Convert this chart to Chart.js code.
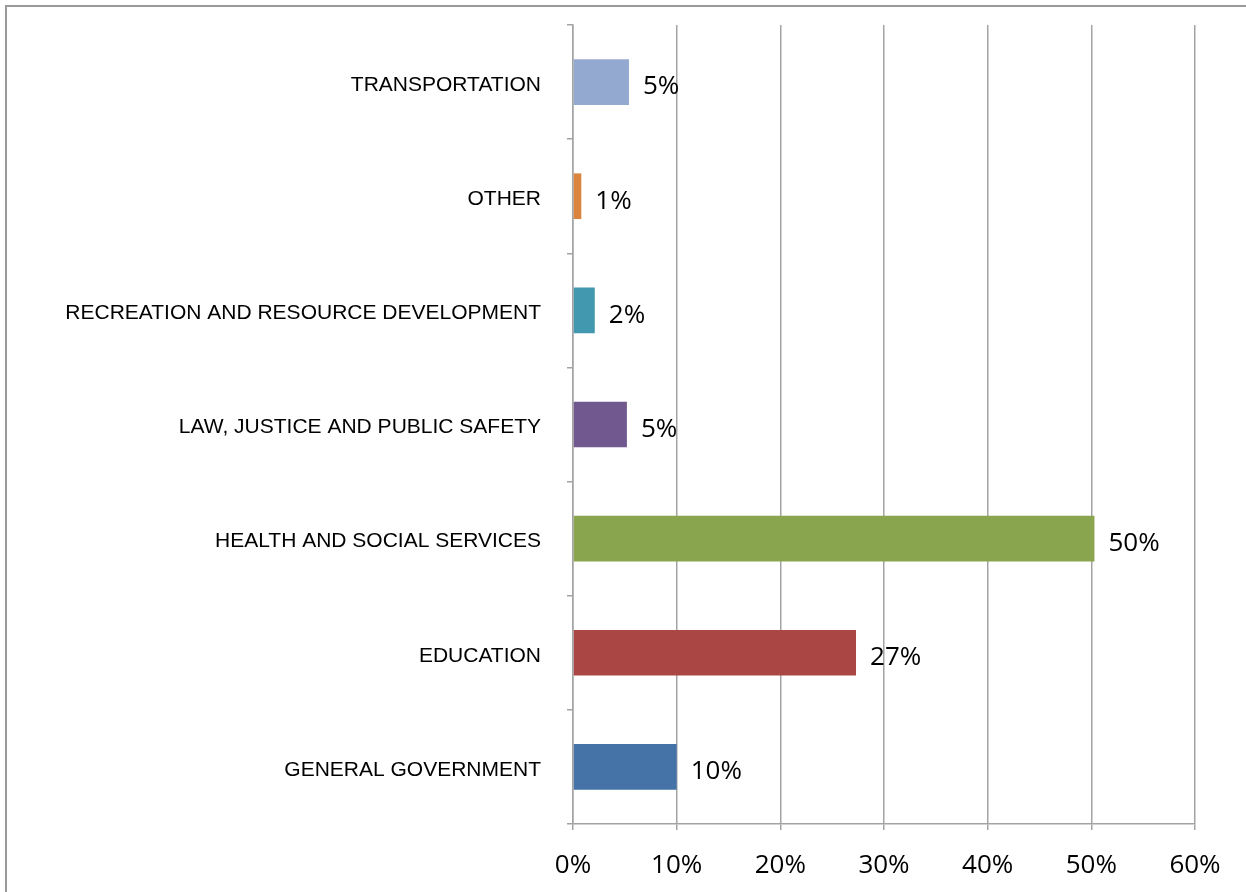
<!DOCTYPE html>
<html>
<head>
<meta charset="utf-8">
<script src="https://cdn.jsdelivr.net/npm/chart.js@4.4.1/dist/chart.umd.min.js"></script>
<style>
  html, body { margin: 0; padding: 0; background: #fff; }
  #wrap { position: relative; width: 1246px; height: 892px; overflow: hidden; }
  #frame { position: absolute; left: 5px; top: 5px; width: 1300px; height: 950px;
           border-left: 2px solid #9a9a9a; border-top: 2px solid #9a9a9a; pointer-events: none; }
  canvas { position: absolute; left: 0; top: 0; }
</style>
</head>
<body>
<div id="wrap">
  <canvas id="chart" width="1246" height="892"></canvas>
  <div id="frame"></div>
</div>
<script>
  // categorias de cima para baixo
  const categorias = [
    'TRANSPORTATION',
    'OTHER',
    'RECREATION AND RESOURCE DEVELOPMENT',
    'LAW, JUSTICE AND PUBLIC SAFETY',
    'HEALTH AND SOCIAL SERVICES',
    'EDUCATION',
    'GENERAL GOVERNMENT'
  ];
  const valores = [5.4, 0.8, 2.1, 5.2, 50.3, 27.3, 10.0];
  const cores = ['#93A9CF', '#DB843D', '#4198AF', '#71588F', '#89A54E', '#AA4643', '#4572A7'];
  const xTicks = [0, 10, 20, 30, 40, 50, 60];

  const gridCor = '#a3a3a3';

  // rótulos de valor ao lado das barras
  const rotulos = {
    id: 'rotulos',
    afterDatasetsDraw(chart) {
      const ctx = chart.ctx;
      const meta = chart.getDatasetMeta(0);
      ctx.save();
      ctx.font = '26px "Open Sans"';
      ctx.fillStyle = '#000';
      ctx.textAlign = 'left';
      ctx.textBaseline = 'middle';
      meta.data.forEach((bar, i) => {
        ctx.fillText(Math.round(valores[i]) + '%', bar.x + 14, bar.y + 5);
      });
      ctx.restore();
    }
  };

  new Chart(document.getElementById('chart'), {
    type: 'bar',
    data: {
      labels: categorias,
      datasets: [{
        data: valores,
        backgroundColor: cores,
        borderWidth: 0,
        barPercentage: 0.4,
        categoryPercentage: 1
      }]
    },
    options: {
      indexAxis: 'y',
      responsive: false,
      animation: false,
      layout: { padding: { top: 25, right: 51, left: 0, bottom: 0 } },
      plugins: { legend: { display: false }, tooltip: { enabled: false } },
      scales: {
        x: {
          min: 0,
          max: 60,
          afterBuildTicks: s => { s.ticks = xTicks.map(v => ({ value: v })); },
          afterFit: s => { s.height = 68; s.paddingLeft = 0; s.paddingRight = 0; },
          ticks: {
            callback: v => v + '%',
            color: '#000',
            font: { family: 'Open Sans', size: 26 },
            padding: 20,
            maxRotation: 0
          },
          grid: { color: gridCor, lineWidth: 1.5, tickLength: 6 },
          border: { color: gridCor, width: 1.5 }
        },
        y: {
          afterFit: s => { s.width = 573; s.paddingTop = 0; s.paddingBottom = 0; },
          ticks: {
            color: '#000',
            font: { family: 'Liberation Sans', size: 21 },
            padding: 26,
            labelOffset: 3,
            autoSkip: false
          },
          grid: { offset: true, drawOnChartArea: false, color: gridCor, lineWidth: 1.5, tickLength: 6 },
          border: { color: gridCor, width: 1.5 }
        }
      }
    },
    plugins: [rotulos]
  });
</script>
</body>
</html>
